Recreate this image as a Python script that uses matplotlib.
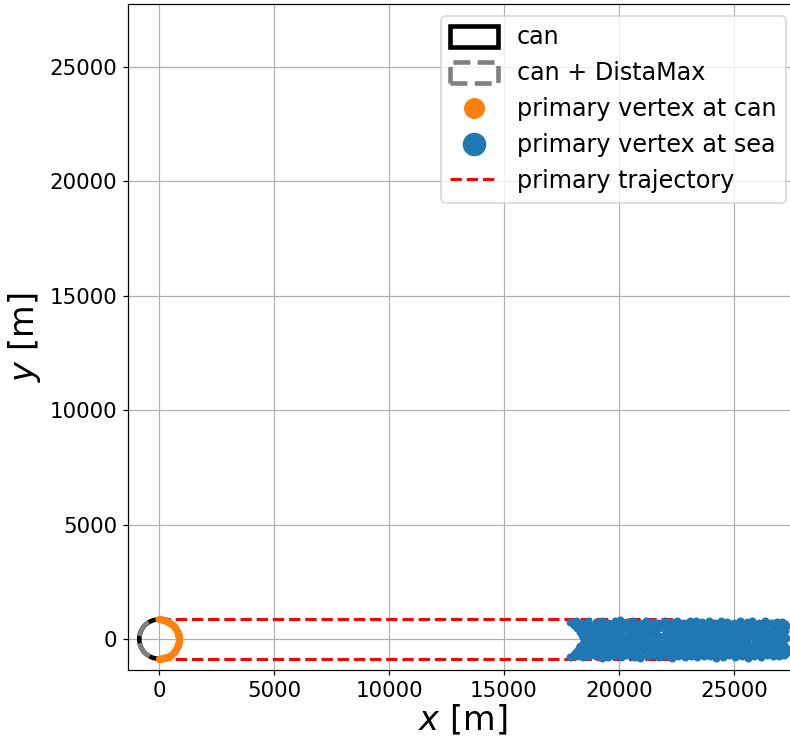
import numpy as np
import matplotlib
matplotlib.use('Agg')
import matplotlib.pyplot as plt
from matplotlib.patches import Circle


# geometry of the can [m]
can_radius = 860
trajectory_end = 22500
x_lim = (-1350, 27780)
y_lim = (-1350, 27740)

# angles [deg] of the primary vertices found on the can surface
can_vertex_angle = [-90, -85, -80, -74, -69, -63, -58, -52, -47, -41, -36, -30,
                    -25, -19, -14, -8, -3, 2, 8, 13, 19, 24, 30, 35, 41, 46,
                    52, 57, 63, 68, 74, 79, 85, 90]

sea_x = [
    17850, 18120, 18400, 18650, 18980, 19250, 19500, 19820, 20060, 20350, 20600, 20900,
    21180, 21420, 21700, 21990, 22250, 22530, 22800, 23100, 23340, 23620, 23900, 24180,
    24450, 24700, 25000, 25260, 25550, 25800, 26100, 26350, 26620, 26880, 27100,
    18000, 18530, 19180, 19700, 20250, 20780, 21300, 21850, 22400, 22950, 23500, 24050,
    24600, 25150, 25650, 26230, 26760, 27200,
    18050, 18300, 18560, 18820, 19060, 19380, 19620, 19900, 20180, 20450, 20730, 21000,
    21260, 21550, 21820, 22100, 22380, 22650, 22920, 23200, 23480, 23750, 24030, 24300,
    24580, 24850, 25120, 25400, 25680, 25950, 26220, 26500, 26760, 27020, 27250,
    18150, 18700, 19250, 19760, 20320, 20850, 21380, 21930, 22480, 23020, 23560, 24120,
    24680, 25220, 25760, 26300, 26820,
    18250, 18500, 18760, 19030, 19280, 19560, 19840, 20100, 20380, 20640, 20920, 21200,
    21470, 21750, 22020, 22300, 22560, 22850, 23120, 23400, 23660, 23940, 24220, 24500,
    24760, 25040, 25320, 25590, 25860, 26140, 26400, 26680, 26950, 27200,
    18300, 18820, 19370, 19900, 20460, 20980, 21540, 22080, 22620, 23160, 23700, 24260,
    24800, 25340, 25880, 26420, 26980,
    18380, 18640, 18900, 19180, 19450, 19720, 19980, 20260, 20540, 20800, 21080, 21350,
    21630, 21900, 22180, 22450, 22730, 23000, 23280, 23550, 23820, 24100, 24380, 24650,
    24920, 25200, 25480, 25750, 26020, 26300, 26560, 26840, 27120,
    18450, 18950, 19480, 20020, 20560, 21100, 21640, 22180, 22720, 23270, 23800, 24360,
    24900, 25450, 25990, 26530, 27060,
    18500, 18760, 19040, 19300, 19580, 19860, 20120, 20400, 20680, 20950, 21220, 21500,
    21780, 22050, 22330, 22600, 22880, 23150, 23430, 23700, 23980, 24250, 24530, 24800,
    25080, 25350, 25620, 25900, 26180, 26450, 26720, 27000, 27280,
    18460, 19000, 19530, 20070, 20610, 21160, 21700, 22240, 22780, 23320, 23860, 24400,
    24950, 25500, 26040, 26580, 27100,
    18420, 18680, 18950, 19220, 19500, 19760, 20030, 20300, 20580, 20850, 21120, 21400,
    21680, 21950, 22220, 22500, 22780, 23060, 23320, 23600, 23870, 24150, 24420, 24700,
    24980, 25250, 25520, 25800, 26080, 26340, 26620, 26900, 27160,
    18320, 18870, 19400, 19940, 20500, 21030, 21580, 22120, 22660, 23200, 23750, 24300,
    24840, 25380, 25920, 26460, 27010,
    18280, 18540, 18800, 19060, 19330, 19600, 19880, 20150, 20420, 20700, 20970, 21250,
    21520, 21800, 22070, 22350, 22620, 22900, 23180, 23450, 23720, 24000, 24270, 24550,
    24820, 25100, 25370, 25650, 25920, 26200, 26470, 26740, 27020, 27240,
    18170, 18720, 19270, 19800, 20350, 20890, 21420, 21970, 22520, 23060, 23600, 24160,
    24720, 25260, 25800, 26340, 26860,
    18080, 18340, 18600, 18870, 19140, 19420, 19680, 19950, 20230, 20500, 20780, 21050,
    21320, 21600, 21870, 22150, 22420, 22700, 22970, 23250, 23520, 23800, 24070, 24350,
    24620, 24900, 25170, 25450, 25720, 26000, 26270, 26550, 26820, 27080, 27260,
    18020, 18560, 19200, 19730, 20280, 20810, 21330, 21880, 22430, 22980, 23530, 24080,
    24630, 25180, 25690, 26260, 26790, 27210,
    17880, 18160, 18450, 18700, 18990, 19270, 19540, 19800, 20080, 20370, 20650, 20920,
    21200, 21470, 21750, 22030, 22300, 22570, 22850, 23130, 23400, 23680, 23950, 24230,
    24500, 24780, 25050, 25330, 25600, 25880, 26150, 26420, 26700, 26970, 27150,
]
sea_y = [
    760, 800, 720, 790, 740, 810, 700, 770, 820, 730, 780, 700,
    800, 760, 720, 810, 740, 790, 700, 770, 810, 730, 780, 720,
    800, 750, 700, 790, 740, 810, 720, 780, 700, 760, 730,
    690, 670, 710, 680, 700, 660, 690, 720, 670, 700, 680, 710,
    660, 690, 700, 670, 690, 660,
    600, 560, 640, 580, 530, 620, 650, 560, 600, 540, 630, 590,
    550, 640, 600, 520, 610, 570, 650, 590, 540, 620, 580, 650,
    560, 600, 530, 630, 570, 610, 550, 640, 590, 520, 580,
    500, 480, 520, 490, 510, 470, 500, 530, 480, 510, 490, 520,
    470, 500, 510, 480, 500,
    430, 380, 350, 420, 460, 370, 410, 340, 450, 400, 360, 430,
    390, 470, 350, 410, 440, 360, 400, 460, 330, 420, 380, 450,
    350, 410, 470, 370, 430, 390, 350, 440, 400, 370,
    300, 280, 320, 290, 310, 270, 300, 330, 280, 310, 290, 320,
    270, 300, 310, 280, 300,
    180, 230, 150, 210, 260, 170, 220, 140, 250, 190, 160, 240,
    200, 130, 270, 180, 220, 160, 250, 200, 140, 230, 180, 260,
    150, 210, 240, 170, 220, 130, 250, 190, 210,
    100, 80, 120, 90, 110, 70, 100, 130, 80, 110, 90, 120,
    70, 100, 110, 80, 100,
    20, -40, 60, -10, 40, -60, 10, 70, -30, 30, -70, 0,
    50, -50, 20, -20, 60, -40, 10, 40, -60, 30, -10, 70,
    -50, 0, 40, -30, 60, -20, 10, -40, 30,
    -100, -80, -120, -90, -110, -70, -100, -130, -80, -110, -90, -120,
    -70, -100, -110, -80, -100,
    -210, -160, -240, -180, -140, -250, -200, -170, -230, -130, -260, -190,
    -150, -220, -180, -270, -140, -210, -240, -160, -200, -250, -130, -190,
    -230, -170, -140, -260, -200, -150, -220, -180, -240,
    -300, -280, -320, -290, -310, -270, -300, -330, -280, -310, -290, -320,
    -270, -300, -310, -280, -300,
    -380, -440, -350, -410, -460, -370, -420, -340, -390, -450, -360, -430,
    -400, -470, -350, -410, -380, -440, -360, -420, -470, -390, -340, -430,
    -400, -360, -450, -410, -370, -440, -390, -350, -420, -400,
    -500, -480, -520, -490, -510, -470, -500, -530, -480, -510, -490, -520,
    -470, -500, -510, -480, -500,
    -600, -550, -630, -570, -620, -540, -650, -590, -560, -640, -580, -530,
    -610, -600, -650, -560, -620, -540, -600, -640, -570, -530, -610, -590,
    -650, -550, -620, -580, -640, -560, -600, -530, -620, -570, -590,
    -690, -670, -710, -680, -700, -660, -690, -720, -670, -700, -680, -710,
    -660, -690, -700, -670, -690, -660,
    -780, -740, -800, -760, -720, -810, -770, -740, -800, -710, -780, -820,
    -750, -700, -790, -760, -810, -730, -780, -720, -800, -760, -740, -810,
    -770, -700, -790, -750, -820, -730, -780, -710, -760, -740, -700,
]

dpi = 110
fig = plt.figure(figsize=(790 / dpi, 740 / dpi), dpi=dpi)
ax = fig.add_axes([128 / 790, 70 / 740, 670 / 790, 666 / 740])

ax.add_patch(Circle((0, 0), can_radius, fill=False, ec='black', lw=3,
                    label='can', zorder=3))
ax.add_patch(Circle((0, 0), can_radius, fill=False, ec='gray', lw=3,
                    ls='--', label='can + DistaMax', zorder=3))

phi = np.radians(can_vertex_angle)
ax.scatter(can_radius * np.cos(phi), can_radius * np.sin(phi), s=14,
           color='tab:orange', label='primary vertex at can', zorder=4)
ax.scatter(sea_x, sea_y, s=18, color='tab:blue',
           label='primary vertex at sea', zorder=4)

ax.plot([0, trajectory_end], [can_radius, can_radius], 'r--', lw=2,
        label='primary trajectory', zorder=2)
ax.plot([0, trajectory_end], [-can_radius, -can_radius], 'r--', lw=2, zorder=2)

ax.set_xlim(x_lim)
ax.set_ylim(y_lim)
ax.grid(True, zorder=0)
ax.set_axisbelow(True)
ax.tick_params(labelsize=14)
ax.set_xlabel('$x$ [m]', fontsize=22, labelpad=2)
ax.set_ylabel('$y$ [m]', fontsize=22, labelpad=4)
ax.legend(loc='upper right', fontsize=15.6, markerscale=3.4,
          handleheight=1.0)

fig.savefig('out.png', dpi=dpi)
